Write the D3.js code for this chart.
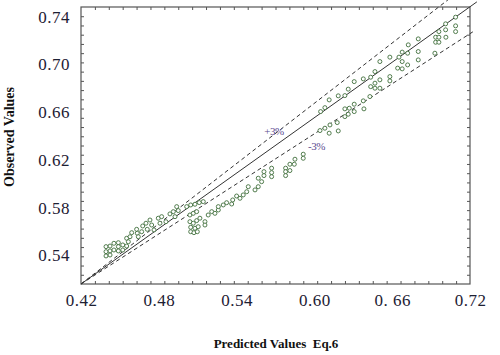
<!DOCTYPE html>
<html><head><meta charset="utf-8">
<script src="https://cdn.jsdelivr.net/npm/d3@7"></script>
<style>body{margin:0;background:#fff}svg{display:block}</style>
</head><body>
<svg id="c" width="500" height="355"></svg>
<script>
// ---- data ----
const xTickValues = [0.42, 0.48, 0.54, 0.60, 0.66, 0.72];
const xTickLabels = ["0.42", "0.48", "0.54", "0.60", "0. 66", "0.72"];
const yTickValues = [0.54, 0.58, 0.62, 0.66, 0.70, 0.74];
const yTickLabels = ["0.54", "0.58", "0.62", "0.66", "0.70", "0.74"];
const xDomain = [0.42, 0.72];
const yDomain = [0.516, 0.748];
const predicted = [
0.7089,0.7012,0.7089,0.7089,0.7012,0.6960,0.6935,0.6960,0.6935,0.6960,0.7014,0.6929,0.6801,0.6724,0.6801,0.6801,
0.6719,0.6677,0.6652,0.6677,0.6719,0.6642,0.6677,0.6582,0.6505,0.6582,0.6582,0.6505,0.6467,0.6434,0.6467,0.6434,
0.6467,0.6505,0.6377,0.6307,0.6261,0.6184,0.6235,0.6114,0.6081,0.6048,0.6428,0.6377,0.6382,0.6307,0.6269,0.6235,
0.6307,0.6261,0.6235,0.6176,0.6120,0.6081,0.6043,0.6114,0.6184,0.5914,0.5914,0.5850,0.5811,0.5845,0.5778,0.5778,
0.5778,0.5811,0.5670,0.5670,0.5670,0.5611,0.5611,0.5567,0.5593,0.5542,0.5567,
0.4393,0.4424,0.4454,0.4393,0.4424,0.4454,0.4393,0.4424,0.4488,0.4522,0.4488,0.4522,0.4488,0.4552,0.4552,0.4578,
0.4591,0.4565,0.4629,0.4634,0.4668,0.4642,0.4676,0.4701,0.4711,0.4732,0.4745,0.4763,0.4796,0.4822,0.4809,0.4855,
0.4886,0.4912,0.4938,0.4950,0.4925,0.5015,0.5046,0.5079,0.5112,0.5143,0.5040,0.5066,0.5092,
0.5040,0.5066,0.5092,0.5046,0.5079,0.5104,0.5046,0.5071,0.5097,
0.5117,0.5156,0.5156,0.5181,0.5208,0.5233,0.5259,0.5259,0.5297,0.5323,0.5362,0.5370,0.5400,0.5426,0.5451,0.5478,0.5490
];
const observed = [
0.7395,0.7339,0.7322,0.7274,0.7289,0.7274,0.7227,0.7227,0.7185,0.7185,0.7227,0.7093,0.7213,0.7163,0.7107,0.7037,
0.7093,0.7102,0.7060,0.7023,0.6995,0.6968,0.6962,0.7060,0.7023,0.6897,0.6861,0.6870,0.6939,0.6892,0.6842,0.6813,
0.6800,0.6800,0.6878,0.6855,0.6792,0.6736,0.6738,0.6702,0.6637,0.6604,0.6730,0.6694,0.6627,0.6666,0.6632,0.6627,
0.6604,0.6582,0.6562,0.6512,0.6492,0.6465,0.6445,0.6423,0.6442,0.6247,0.6213,0.6205,0.6163,0.6163,0.6130,0.6101,
0.6068,0.6110,0.6130,0.6093,0.6059,0.6101,0.6068,0.6046,0.6017,0.5948,0.5975,
0.5473,0.5478,0.5501,0.5431,0.5437,0.5445,0.5395,0.5403,0.5506,0.5487,0.5473,0.5445,0.5437,0.5478,0.5543,0.5556,
0.5590,0.5514,0.5618,0.5585,0.5598,0.5556,0.5646,0.5669,0.5618,0.5696,0.5654,0.5613,0.5711,0.5724,0.5669,0.5682,
0.5747,0.5766,0.5808,0.5775,0.5724,0.5808,0.5822,0.5828,0.5842,0.5850,0.5738,0.5752,0.5766,
0.5682,0.5669,0.5691,0.5635,0.5627,0.5640,0.5598,0.5590,0.5598,
0.5711,0.5682,0.5654,0.5738,0.5766,0.5752,0.5780,0.5808,0.5822,0.5841,0.5830,0.5864,0.5897,0.5878,0.5906,0.5933,0.5975
];
// reference lines (data units): ideal, +3%, -3%
const idealLine = [[0.42, 0.516], [0.7253, 0.7523]];
const plusLine  = [[0.42, 0.516], [0.7030, 0.7540]];
const minusLine = [[0.42, 0.516], [0.7222, 0.7272]];
const plusLabel = {text: "+3%", x: 0.5688, y: 0.6409};
const minusLabel = {text: "-3%", x: 0.6016, y: 0.6283};
const xTitle = "Predicted Values  Eq.6";
const yTitle = "Observed Values";

// ---- layout ----
const L = 81, R = 470, T = 7, B = 284;
const svg = d3.select("#c");
const x = d3.scaleLinear().domain(xDomain).range([L, R]);
const y = d3.scaleLinear().domain(yDomain).range([B, T]);
const axisColor = "#555";

// minor tick scales
const xm = d3.scaleLinear().domain([0, 28]).range([L, R]);
const ym = d3.scaleLinear().domain([0, 30]).range([B, T]);
const xmTicks = d3.range(1, 28), ymTicks = d3.range(1, 30);

function styleAxis(g) {
  g.select(".domain").remove();
  g.selectAll(".tick line").attr("stroke", axisColor).attr("stroke-width", 1);
  g.selectAll(".tick text").remove();
}
svg.append("g").attr("transform", `translate(0,${B})`)
  .call(d3.axisBottom(xm).tickValues(xmTicks).tickSize(-3)).call(styleAxis);
svg.append("g").attr("transform", `translate(0,${T})`)
  .call(d3.axisTop(xm).tickValues(xmTicks).tickSize(-3)).call(styleAxis);
svg.append("g").attr("transform", `translate(${L},0)`)
  .call(d3.axisLeft(ym).tickValues(ymTicks).tickSize(-3)).call(styleAxis);
svg.append("g").attr("transform", `translate(${R},0)`)
  .call(d3.axisRight(ym).tickValues(ymTicks).tickSize(-3)).call(styleAxis);

// frame
svg.append("rect").attr("x", L).attr("y", T).attr("width", R - L).attr("height", B - T)
  .attr("fill", "none").attr("stroke", axisColor).attr("stroke-width", 1.2);

// tick labels via axes
const labelFont = "'Liberation Serif','Times New Roman',serif";
const xa = svg.append("g").attr("transform", `translate(0,${B})`)
  .call(d3.axisBottom(x).tickValues(xTickValues).tickFormat((d, i) => xTickLabels[i]).tickSize(0).tickPadding(10));
xa.select(".domain").remove();
xa.selectAll("text").attr("font-family", labelFont).attr("font-size", 17).attr("fill", "#1d2033")
  .attr("letter-spacing", 0.5).attr("xml:space", "preserve");
const ya = svg.append("g").attr("transform", `translate(${L},0)`)
  .call(d3.axisLeft(y).tickValues(yTickValues).tickFormat((d, i) => yTickLabels[i]).tickSize(0).tickPadding(11));
ya.select(".domain").remove();
ya.selectAll("text").attr("font-family", labelFont).attr("font-size", 17).attr("fill", "#1d2033")
  .attr("letter-spacing", 0.5);

// reference lines
const line = d3.line().x(d => x(d[0])).y(d => y(d[1]));
svg.append("path").attr("d", line(idealLine)).attr("stroke", "#333").attr("stroke-width", 1).attr("fill", "none");
svg.append("path").attr("d", line(plusLine)).attr("stroke", "#333").attr("stroke-width", 1)
  .attr("stroke-dasharray", "4,3").attr("fill", "none");
svg.append("path").attr("d", line(minusLine)).attr("stroke", "#333").attr("stroke-width", 1)
  .attr("stroke-dasharray", "4,3").attr("fill", "none");

// points
svg.append("g").selectAll("circle").data(predicted.map((p, i) => [p, observed[i]])).join("circle")
  .attr("cx", d => x(d[0])).attr("cy", d => y(d[1])).attr("r", 2)
  .attr("fill", "#fff").attr("stroke", "#3f6e3b").attr("stroke-width", 0.9);

// percent labels
[plusLabel, minusLabel].forEach(l => {
  svg.append("text").attr("x", x(l.x)).attr("y", y(l.y)).attr("text-anchor", "middle")
    .attr("font-family", labelFont).attr("font-size", 11).attr("letter-spacing", -0.5)
    .attr("fill", "#5a4a90").text(l.text);
});

// titles
svg.append("text").attr("x", 276).attr("y", 348).attr("text-anchor", "middle")
  .attr("font-family", labelFont).attr("font-weight", "bold").attr("font-size", 13).attr("fill", "#111")
  .attr("xml:space", "preserve").text(xTitle);
svg.append("text").attr("transform", "translate(14,137) rotate(-90)").attr("text-anchor", "middle")
  .attr("font-family", labelFont).attr("font-weight", "bold").attr("font-size", 14).attr("fill", "#111")
  .text(yTitle);
</script>
</body></html>
